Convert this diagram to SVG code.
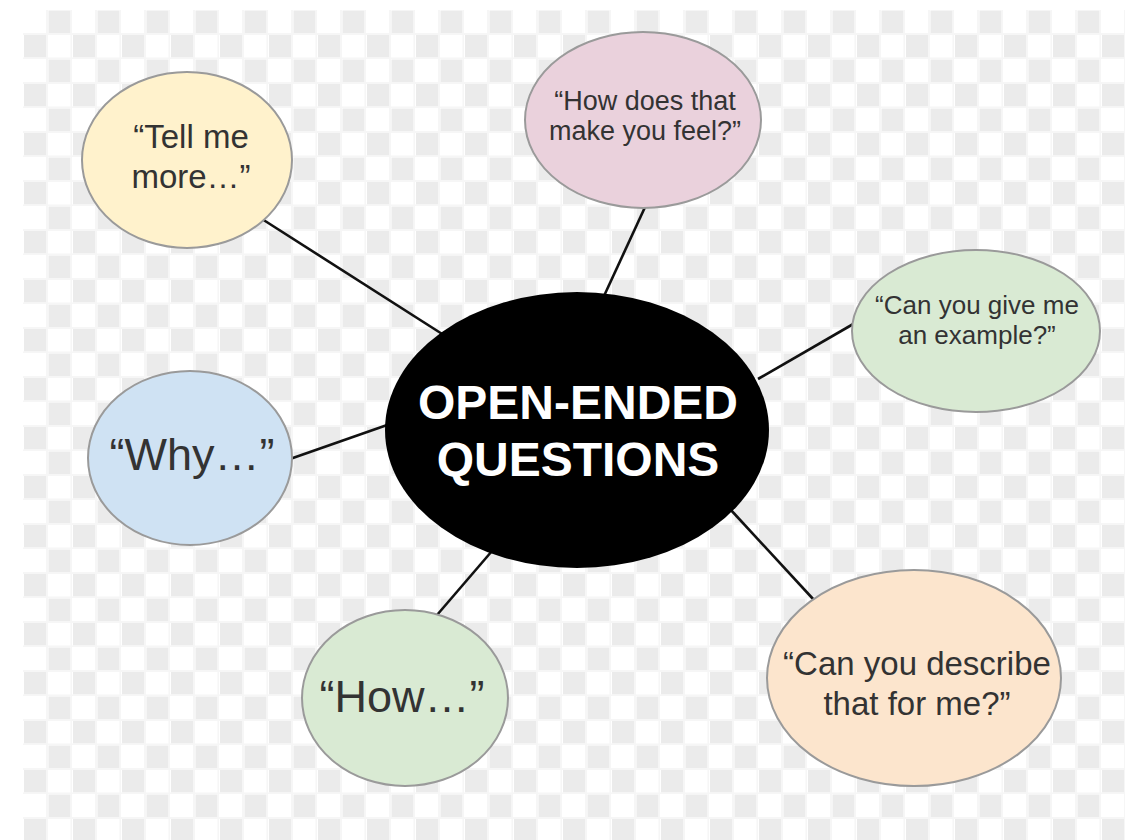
<svg xmlns="http://www.w3.org/2000/svg" width="1132" height="840" viewBox="0 0 1132 840">
  <defs>
    <pattern id="checker" x="23" y="10" width="49" height="49" patternUnits="userSpaceOnUse">
      <rect x="0" y="0" width="49" height="49" fill="#ffffff"/>
      <rect x="25.5" y="0.5" width="22" height="22.5" fill="#ebebeb"/>
      <rect x="1" y="25" width="22" height="22.5" fill="#ebebeb"/>
      <rect x="23" y="0" width="2" height="49" fill="#f6f6f6"/>
      <rect x="47.5" y="0" width="1.5" height="49" fill="#f6f6f6"/>
      <rect x="0" y="23" width="49" height="2" fill="#f6f6f6"/>
      <rect x="0" y="47.5" width="49" height="1.5" fill="#f6f6f6"/>
    </pattern>
    <style>
      .bubble { stroke: #9a9a9a; stroke-width: 2; }
      .txt { font-family: "Liberation Sans", Arial, sans-serif; fill: #333333; text-anchor: middle; }
      .title { font-family: "Liberation Sans", Arial, sans-serif; fill: #ffffff; font-weight: bold; text-anchor: middle; font-size: 48px; }
      .conn line { stroke: #111111; stroke-width: 2.6; stroke-linecap: butt; }
    </style>
  </defs>

  <rect x="0" y="0" width="1132" height="840" fill="#ffffff"/>
  <rect x="23" y="10" width="1102" height="830" fill="url(#checker)"/>

  <g id="connectors" class="conn">
    <line x1="262" y1="219" x2="450" y2="339"/>
    <line x1="646" y1="205" x2="604" y2="296"/>
    <line x1="855" y1="323" x2="758" y2="379"/>
    <line x1="290" y1="459" x2="390" y2="424"/>
    <line x1="437" y1="615" x2="492" y2="551"/>
    <line x1="730" y1="509" x2="814" y2="600"/>
  </g>

  <g id="center">
    <ellipse cx="577" cy="430" rx="192" ry="138" fill="#000000"/>
    <text class="title" x="578" y="419">OPEN-ENDED</text>
    <text class="title" x="578" y="476">QUESTIONS</text>
  </g>

  <g id="tell-me-more">
    <ellipse class="bubble" cx="187" cy="160" rx="105" ry="88" fill="#fff2cc"/>
    <text class="txt" x="191" y="148" font-size="33">“Tell me</text>
    <text class="txt" x="191" y="188" font-size="33">more…”</text>
  </g>

  <g id="how-feel">
    <ellipse class="bubble" cx="643" cy="120" rx="118" ry="88" fill="#ead1dc"/>
    <text class="txt" x="645" y="110" font-size="27">“How does that</text>
    <text class="txt" x="645" y="140" font-size="27">make you feel?”</text>
  </g>

  <g id="example">
    <ellipse class="bubble" cx="976" cy="331" rx="124" ry="81" fill="#d9ead3"/>
    <text class="txt" x="977" y="314" font-size="26">“Can you give me</text>
    <text class="txt" x="977" y="344" font-size="26">an example?”</text>
  </g>

  <g id="why">
    <ellipse class="bubble" cx="190" cy="458" rx="102" ry="87" fill="#cfe2f3"/>
    <text class="txt" x="192" y="470" font-size="45">“Why…”</text>
  </g>

  <g id="how">
    <ellipse class="bubble" cx="405" cy="698" rx="103" ry="88" fill="#d9ead3"/>
    <text class="txt" x="402" y="712" font-size="45">“How…”</text>
  </g>

  <g id="describe">
    <ellipse class="bubble" cx="914" cy="678" rx="147" ry="108" fill="#fce5cd"/>
    <text class="txt" x="917" y="675" font-size="33">“Can you describe</text>
    <text class="txt" x="917" y="715" font-size="33">that for me?”</text>
  </g>
</svg>
